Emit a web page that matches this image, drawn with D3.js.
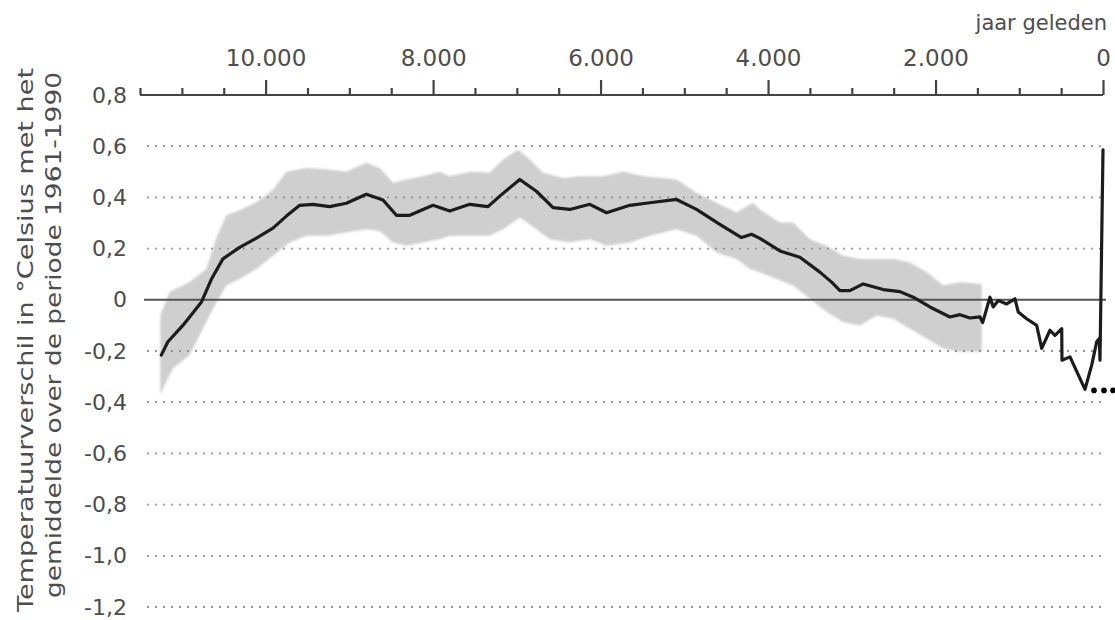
<!DOCTYPE html>
<html><head><meta charset="utf-8">
<script src="https://cdn.jsdelivr.net/npm/d3@7"></script>
<style>
html,body{margin:0;padding:0;background:#fff;}
svg{display:block;}
text{font-family:"DejaVu Sans",sans-serif;fill:#4d4d4d;}
</style></head><body>
<svg id="chart" width="1115" height="620"></svg>
<script>
// ---- data (years before present, temperature anomaly °C vs 1961-1990) ----
const holoceneYears = [11246,11167,10988,10768,10648,10510,10310,10131,9912,9752,9593,9435,9235,9036,8797,8598,8438,8279,8120,8001,7801,7562,7344,7204,6965,6766,6567,6368,6129,5929,5651,5412,5093,4854,4576,4317,4197,4098,3859,3620,3381,3241,3142,3023,2864,2625,2425,2266,2067,1828,1708,1589,1469,1437];
const holoceneMean = [-0.216,-0.164,-0.10,-0.01,0.08,0.16,0.205,0.237,0.28,0.327,0.369,0.373,0.364,0.377,0.412,0.39,0.33,0.33,0.353,0.369,0.347,0.373,0.364,0.405,0.47,0.424,0.36,0.353,0.373,0.34,0.369,0.379,0.392,0.353,0.295,0.243,0.256,0.24,0.191,0.166,0.108,0.069,0.036,0.036,0.062,0.04,0.032,0.01,-0.028,-0.067,-0.058,-0.071,-0.067,-0.089];

const bandUpperYears = [11258,11147,10908,10708,10589,10469,10310,10111,9912,9752,9513,9274,9036,8797,8638,8479,8319,8120,7921,7801,7562,7324,7165,6985,6846,6687,6448,6248,5970,5731,5492,5253,5093,4854,4615,4376,4178,4098,3859,3700,3500,3301,3103,2903,2505,2306,2106,1908,1708,1449];
const bandUpperTemp = [-0.06,0.03,0.07,0.12,0.24,0.33,0.35,0.38,0.43,0.50,0.515,0.51,0.50,0.535,0.515,0.457,0.47,0.483,0.50,0.483,0.50,0.496,0.548,0.586,0.548,0.496,0.476,0.483,0.483,0.50,0.483,0.476,0.47,0.418,0.379,0.341,0.379,0.353,0.302,0.302,0.237,0.211,0.172,0.159,0.159,0.146,0.108,0.056,0.069,0.062];
const bandLowerYears = [11258,11186,11107,10908,10749,10629,10469,10310,10111,9912,9713,9513,9274,9036,8797,8638,8479,8319,8120,7921,7801,7562,7324,7165,6965,6766,6607,6368,6129,5929,5651,5412,5093,4854,4615,4376,4217,4098,3700,3500,3301,3103,2903,2704,2505,2306,2106,1908,1708,1449];
const bandLowerTemp = [-0.37,-0.32,-0.268,-0.216,-0.113,-0.035,0.056,0.082,0.12,0.172,0.224,0.25,0.25,0.263,0.276,0.269,0.224,0.211,0.224,0.237,0.25,0.25,0.25,0.276,0.321,0.276,0.237,0.224,0.237,0.211,0.224,0.25,0.276,0.25,0.185,0.159,0.12,0.108,0.056,0.004,-0.048,-0.087,-0.10,-0.061,-0.074,-0.113,-0.151,-0.19,-0.203,-0.203];

const recentYears = [1350,1311,1251,1150,1051,1012,912,792,732,633,573,534,493,490,394,215,135,75,44,36,0];
const recentTemp = [0.01,-0.028,-0.003,-0.016,0.004,-0.048,-0.074,-0.10,-0.19,-0.119,-0.139,-0.126,-0.113,-0.236,-0.223,-0.35,-0.255,-0.164,-0.151,-0.236,0.586];

const xMajorTicks = [10000,8000,6000,4000,2000,0];
const xMinorTicks = [11500,11000,10500,9500,9000,8500,7500,7000,6500,5500,5000,4500,3500,3000,2500,1500,1000,500];
const yTicks = [0.8,0.6,0.4,0.2,0,-0.2,-0.4,-0.6,-0.8,-1.0,-1.2];
const xTitle = "jaar geleden";
const yTitleLines = ["Temperatuurverschil in °Celsius met het","gemiddelde over de periode 1961-1990"];

// ---- chart ----
const svg = d3.select("#chart");
const x = d3.scaleLinear().domain([11500, 0]).range([140, 1103]);
const y = d3.scaleLinear().domain([0.8, -1.2]).range([95, 607]);
const nl = d3.formatLocale({decimal: ",", thousands: ".", grouping: [3], currency: ["", "€"], minus: "-"});
const fmtX = nl.format(",");
const fmtY = v => v === 0 ? "0" : nl.format(".1f")(v);

// uncertainty band
const upper = bandUpperYears.map((yr, i) => [yr, bandUpperTemp[i]]);
const lower = bandLowerYears.map((yr, i) => [yr, bandLowerTemp[i]]).reverse();
const defs = svg.append("defs");
defs.append("filter").attr("id", "soft").append("feGaussianBlur").attr("stdDeviation", 1.2);
const poly = d3.line().x(d => x(d[0])).y(d => y(d[1])).curve(d3.curveLinear);
svg.append("path")
  .attr("d", poly(upper.concat(lower)) + "Z")
  .attr("fill", "#cfcfcf")
  .attr("filter", "url(#soft)");

// gridlines
const x0 = x(11500), x1 = x(0);
svg.append("g").selectAll("line")
  .data(yTicks.filter(v => v !== 0 && v !== 0.8))
  .join("line")
  .attr("x1", x0 + 7).attr("x2", x1)
  .attr("y1", d => y(d)).attr("y2", d => y(d))
  .attr("stroke", "#8a8a8a").attr("stroke-width", 1.8)
  .attr("stroke-dasharray", "1.8 6.2");
svg.append("line")
  .attr("x1", x0 + 4).attr("x2", x1 + 3)
  .attr("y1", y(0)).attr("y2", y(0))
  .attr("stroke", "#555").attr("stroke-width", 2);

// y labels
svg.append("g").selectAll("text")
  .data(yTicks).join("text")
  .attr("x", 127).attr("y", d => y(d))
  .attr("text-anchor", "end").attr("dominant-baseline", "central")
  .style("font-size", "22px")
  .text(fmtY);

// top axis
const axMajor = d3.axisTop(x).tickValues(xMajorTicks).tickFormat(fmtX).tickSizeInner(15).tickSizeOuter(0).tickPadding(14);
const gAx = svg.append("g").attr("transform", `translate(0,${y(0.8)})`).call(axMajor);
gAx.select(".domain").attr("stroke", "#444").attr("stroke-width", 2).attr("d", `M${x0},0H${x1}`);
gAx.selectAll(".tick line").attr("stroke", "#444").attr("stroke-width", 2.2);
gAx.selectAll(".tick text").attr("fill", "#4d4d4d").style("font-size", "23px").style("font-family", '"DejaVu Sans",sans-serif');
const axMinor = d3.axisTop(x).tickValues(xMinorTicks).tickFormat("").tickSizeInner(7).tickSizeOuter(0);
const gMin = svg.append("g").attr("transform", `translate(0,${y(0.8)})`).call(axMinor);
gMin.select(".domain").remove();
gMin.selectAll(".tick line").attr("stroke", "#444").attr("stroke-width", 2.2);

svg.append("text").attr("x", 1107).attr("y", 30).attr("text-anchor", "end")
  .style("font-size", "21px").text(xTitle);

// y title
const yt = svg.append("g").attr("transform", "translate(0,340) rotate(-90)");
yt.append("text").attr("x", 0).attr("y", 33).attr("text-anchor", "middle")
  .style("font-size", "22px").attr("textLength", 544).attr("lengthAdjust", "spacingAndGlyphs").text(yTitleLines[0]);
yt.append("text").attr("x", 5).attr("y", 61).attr("text-anchor", "middle")
  .style("font-size", "22px").attr("textLength", 526).attr("lengthAdjust", "spacingAndGlyphs").text(yTitleLines[1]);

// temperature line
const series = holoceneYears.map((yr, i) => [yr, holoceneMean[i]])
  .concat(recentYears.map((yr, i) => [yr, recentTemp[i]]));
svg.append("path")
  .attr("d", d3.line().x(d => x(d[0])).y(d => y(d[1]))(series))
  .attr("fill", "none").attr("stroke", "#1c1c1c").attr("stroke-width", 3.2)
  .attr("stroke-linejoin", "round").attr("stroke-linecap", "round");

// continuation dots
const minT = d3.min(recentTemp);
svg.append("g").selectAll("circle").data([-9, 1, 10]).join("circle")
  .attr("cx", d => x(0) + d).attr("cy", y(minT) + 1).attr("r", 2.8).attr("fill", "#000");
</script>
</body></html>
